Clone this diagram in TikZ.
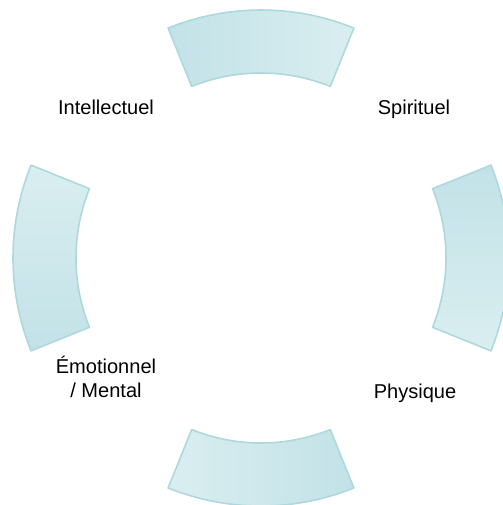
\documentclass[tikz,border=0pt]{standalone}
\usepackage{fontspec}
\setmainfont{Liberation Sans}
\usepackage{xcolor}
\usepackage{tikz}
\usetikzlibrary{positioning}

\definecolor{segdark}{RGB}{194,226,231}
\definecolor{seglight}{RGB}{218,238,240}
\definecolor{segline}{RGB}{172,216,222}

\begin{document}
\begin{tikzpicture}[
  seg/.style={draw=segline, line width=0.9pt, line join=round},
  lbl/.style={font=\fontsize{11.4}{13.2}\selectfont, anchor=base, align=center, inner sep=0pt}
]
  \useasboundingbox (-5.22,-4.94) rectangle (4.82,5.16);

  % vier Segmente
  \shade[seg, left color=segdark, right color=seglight]
    (68:4.96) arc[start angle=68, end angle=112, radius=4.96]
    -- (112:3.7) arc[start angle=112, end angle=68, radius=3.7] -- cycle;
  \shade[seg, top color=segdark, bottom color=seglight]
    (-22:4.96) arc[start angle=-22, end angle=22, radius=4.96]
    -- (22:3.7) arc[start angle=22, end angle=-22, radius=3.7] -- cycle;
  \shade[seg, left color=seglight, right color=segdark]
    (248:4.96) arc[start angle=248, end angle=292, radius=4.96]
    -- (292:3.7) arc[start angle=292, end angle=248, radius=3.7] -- cycle;
  \shade[seg, top color=seglight, bottom color=segdark]
    (158:4.96) arc[start angle=158, end angle=202, radius=4.96]
    -- (202:3.7) arc[start angle=202, end angle=158, radius=3.7] -- cycle;

  % Beschriftungen
  \node[lbl] (intel) at (-3.10,2.86) {Intellectuel};
  \node[lbl] (spirit) at (3.06,2.86) {Spirituel};
  \node[lbl] (phys) at (3.08,-2.80) {Physique};
  \node[lbl] (emot) at (-3.10,-2.78) {Émotionnel\\/ Mental};
\end{tikzpicture}
\end{document}
